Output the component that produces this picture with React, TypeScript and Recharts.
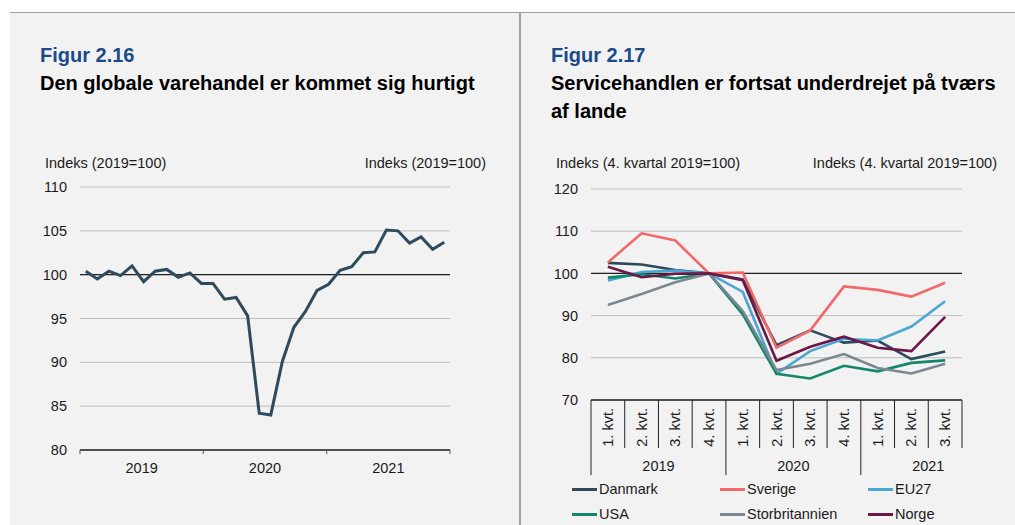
import React from 'react';
import { LineChart, Line, XAxis, YAxis, CartesianGrid, ReferenceLine } from 'recharts';

// Figur 2.16 - global varehandel, månedlig indeks
const months = [
  'jan 2019', 'feb 2019', 'mar 2019', 'apr 2019', 'maj 2019', 'jun 2019', 'jul 2019', 'aug 2019', 'sep 2019', 'okt 2019', 'nov 2019',
  'dec 2019', 'jan 2020', 'feb 2020', 'mar 2020', 'apr 2020', 'maj 2020', 'jun 2020', 'jul 2020', 'aug 2020', 'sep 2020',
  'okt 2020', 'nov 2020', 'dec 2020', 'jan 2021', 'feb 2021', 'mar 2021', 'apr 2021', 'maj 2021', 'jun 2021', 'jul 2021', 'aug 2021',
];
const goodsTrade = [
  100.4, 99.5, 100.4, 99.9, 101.0, 99.2, 100.4, 100.6, 99.7, 100.2, 99.0, 99.0, 97.2, 97.4, 95.3, 84.2,
  84.0, 90.1, 94.0, 95.8, 98.2, 98.9, 100.5, 100.9, 102.5, 102.6, 105.1, 105.0, 103.6, 104.3, 102.9, 103.7,
];
const years = ['2019', '2020', '2021'];
const leftTicks = [80, 85, 90, 95, 100, 105, 110];

// Figur 2.17 - servicehandel, kvartalsvis indeks
const quarters = ['1. kvt.', '2. kvt.', '3. kvt.', '4. kvt.', '1. kvt.', '2. kvt.', '3. kvt.', '4. kvt.', '1. kvt.', '2. kvt.', '3. kvt.'];
const quarterYears = ['2019', '2019', '2019', '2019', '2020', '2020', '2020', '2020', '2021', '2021', '2021'];
const rightTicks = [70, 80, 90, 100, 110, 120];

const danmark = [102.5, 102.1, 100.8, 100, 98.6, 83.0, 86.5, 83.6, 84.1, 79.7, 81.5];
const sverige = [102.6, 109.5, 107.8, 100, 100.2, 82.4, 86.5, 96.9, 96.1, 94.5, 97.8];
const eu27 = [98.3, 100.3, 100.7, 100, 95.6, 76.2, 81.6, 84.5, 84.1, 87.4, 93.4];
const usa = [99.0, 99.8, 98.8, 100, 90.3, 76.2, 75.1, 78.1, 76.8, 78.8, 79.4];
const storbritannien = [92.5, 95.1, 97.9, 100, 91.1, 77.1, 78.6, 80.9, 77.6, 76.3, 78.6];
const norge = [101.6, 99.1, 99.9, 100, 98.4, 79.3, 82.6, 85.0, 82.4, 81.6, 89.7];

const seriesNames = ['Danmark', 'Sverige', 'EU27', 'USA', 'Storbritannien', 'Norge'];
const seriesValues = [danmark, sverige, eu27, usa, storbritannien, norge];
const seriesColors: Record<string, string> = {
  Danmark: '#2c4a5c',
  Sverige: '#f2686b',
  EU27: '#4aa6d3',
  USA: '#12876a',
  Storbritannien: '#7b8893',
  Norge: '#6b1846',
};

const FONT = '"Liberation Sans", Arial, sans-serif';
const TXT = '#1a1a1a';
const GRID = '#bdbdbd';

const goodsData = months.map((m, i) => ({ month: m, x: i + 0.5, value: goodsTrade[i] }));
const serviceData = quarters.map((q, i) => {
  const row: Record<string, any> = { q, year: quarterYears[i], x: i + 0.5 };
  seriesNames.forEach((name, s) => { row[name] = seriesValues[s][i]; });
  return row;
});

const nMonths = months.length;
const sixth = nMonths / (years.length * 2);
const goodsXTicks = Array.from({ length: years.length * 2 + 1 }, (_, k) => k * sixth);

const GoodsTick = (props: any) => {
  const { x, y, payload } = props;
  const k = Math.round(payload.value / sixth);
  if (k % 2 === 0) {
    return <line x1={x} x2={x} y1={y} y2={y + 4} stroke="#555" strokeWidth={1} />;
  }
  return (
    <text x={x} y={y + 18} dy="0.35em" textAnchor="middle" fontSize={14.5} fontFamily={FONT} fill={TXT}>
      {years[(k - 1) / 2]}
    </text>
  );
};

const serviceXTicks = Array.from({ length: quarters.length * 2 + 1 }, (_, k) => k / 2);

const ServiceTick = (props: any) => {
  const { x, y, payload } = props;
  const k = Math.round(payload.value * 2);
  if (k % 2 === 1) {
    const i = (k - 1) / 2;
    return (
      <text x={x} y={y + 8} dy="0.35em" textAnchor="end" transform={`rotate(-90, ${x}, ${y + 8})`}
        fontSize={14.5} fontFamily={FONT} fill={TXT}>
        {quarters[i]}
      </text>
    );
  }
  const v = k / 2;
  const isYearStart = v < quarters.length && (v === 0 || quarterYears[v] !== quarterYears[v - 1]);
  const yearStart = quarterYears.indexOf(quarterYears[Math.max(0, v - 2)]);
  const showYear = v >= 2 && v - 2 === yearStart;
  return (
    <g>
      <line x1={x} x2={x} y1={y} y2={y + (isYearStart ? 75 : 48)} stroke="#222" strokeWidth={1} />
      {showYear && (
        <text x={x} y={y + 66} dy="0.35em" textAnchor="middle" fontSize={14.5} fontFamily={FONT} fill={TXT}>
          {quarterYears[v - 2]}
        </text>
      )}
    </g>
  );
};

const yTickStyle = { fontSize: 14.5, fontFamily: FONT, fill: TXT };

const Title = ({ left, fig, text, width }: { left: number; fig: string; text: string; width: number }) => (
  <div style={{ position: 'absolute', left, top: 41, width, fontFamily: FONT, fontWeight: 'bold', fontSize: 20, lineHeight: '28px' }}>
    <div style={{ color: '#1b4a8a' }}>{fig}</div>
    <div style={{ color: '#000' }}>{text}</div>
  </div>
);

const AxisTitle = ({ left, right, text }: { left?: number; right?: number; text: string }) => (
  <div style={{ position: 'absolute', left, right, top: 155, fontFamily: FONT, fontSize: 14.5, lineHeight: '16px', color: TXT, whiteSpace: 'nowrap' }}>
    {text}
  </div>
);

export default function App() {
  return (
    <div style={{ position: 'fixed', left: 0, top: 0, width: 1015, height: 525, background: '#fff', overflow: 'hidden' }}>
      <div style={{ position: 'absolute', left: 10, top: 12, width: 1005, height: 513, background: '#f2f2f2', borderTop: '1px solid #a0a0a0' }} />
      <div style={{ position: 'absolute', left: 519, top: 12, width: 2, height: 513, background: '#a0a0a0' }} />

      <Title left={40} fig="Figur 2.16" text="Den globale varehandel er kommet sig hurtigt" width={470} />
      <Title left={551} fig="Figur 2.17" text="Servicehandlen er fortsat underdrejet på tværs af lande" width={455} />

      <AxisTitle left={45} text="Indeks (2019=100)" />
      <div style={{ position: 'absolute', left: 0, width: 486, top: 0 }}>
        <AxisTitle right={0} text="Indeks (2019=100)" />
      </div>
      <AxisTitle left={556} text="Indeks (4. kvartal 2019=100)" />
      <div style={{ position: 'absolute', left: 0, width: 997, top: 0 }}>
        <AxisTitle right={0} text="Indeks (4. kvartal 2019=100)" />
      </div>

      <div style={{ position: 'absolute', left: 0, top: 170 }}>
        <LineChart width={510} height={310} data={goodsData} margin={{ top: 17, right: 20, bottom: 0, left: 40 }}>
          <CartesianGrid yAxisId="l" vertical={false} stroke={GRID} strokeWidth={1} />
          <XAxis type="number" dataKey="x" domain={[0, nMonths]} ticks={goodsXTicks} interval={0} height={30}
            axisLine={{ stroke: '#222', strokeWidth: 1.3 }} tickLine={false} tickSize={0} tickMargin={0} tick={<GoodsTick />} />
          <YAxis yAxisId="l" domain={[80, 110]} ticks={leftTicks} interval={0} width={40} axisLine={false}
            tickLine={false} tickSize={0} tickMargin={13} tick={yTickStyle} />
          <YAxis yAxisId="r" orientation="right" domain={[80, 110]} ticks={leftTicks} interval={0} width={40}
            axisLine={false} tickLine={false} tickSize={0} tickMargin={13} tick={yTickStyle} />
          <ReferenceLine yAxisId="l" y={100} stroke="#222" strokeWidth={1.3} />
          <Line yAxisId="l" type="linear" dataKey="value" stroke="#2f4a5c" strokeWidth={3} dot={false} isAnimationActive={false} />
        </LineChart>
      </div>

      <div style={{ position: 'absolute', left: 520, top: 170 }}>
        <LineChart width={495} height={310} data={serviceData} margin={{ top: 19, right: 13, bottom: 0, left: 31 }}>
          <CartesianGrid yAxisId="l" vertical={false} stroke={GRID} strokeWidth={1} />
          <XAxis type="number" dataKey="x" domain={[0, quarters.length]} ticks={serviceXTicks} interval={0} height={80}
            axisLine={{ stroke: '#222', strokeWidth: 1.3 }} tickLine={false} tickSize={0} tickMargin={0} tick={<ServiceTick />} />
          <YAxis yAxisId="l" domain={[70, 120]} ticks={rightTicks} interval={0} width={40} axisLine={false}
            tickLine={false} tickSize={0} tickMargin={13} tick={yTickStyle} />
          <YAxis yAxisId="r" orientation="right" domain={[70, 120]} ticks={rightTicks} interval={0} width={40}
            axisLine={false} tickLine={false} tickSize={0} tickMargin={13} tick={yTickStyle} />
          <ReferenceLine yAxisId="l" y={100} stroke="#222" strokeWidth={1.3} />
          {seriesNames.map((name) => (
            <Line key={name} yAxisId="l" type="linear" dataKey={name} stroke={seriesColors[name]} strokeWidth={2.6}
              dot={false} isAnimationActive={false} />
          ))}
        </LineChart>
      </div>

      {seriesNames.map((name, i) => (
        <div key={name} style={{ position: 'absolute', left: 572 + (i % 3) * 148, top: 480 + Math.floor(i / 3) * 25,
          height: 18, display: 'flex', alignItems: 'center', fontFamily: FONT, fontSize: 14.5, color: TXT }}>
          <span style={{ display: 'inline-block', width: 25, height: 3, background: seriesColors[name], marginRight: 2 }} />
          {name}
        </div>
      ))}
    </div>
  );
}
